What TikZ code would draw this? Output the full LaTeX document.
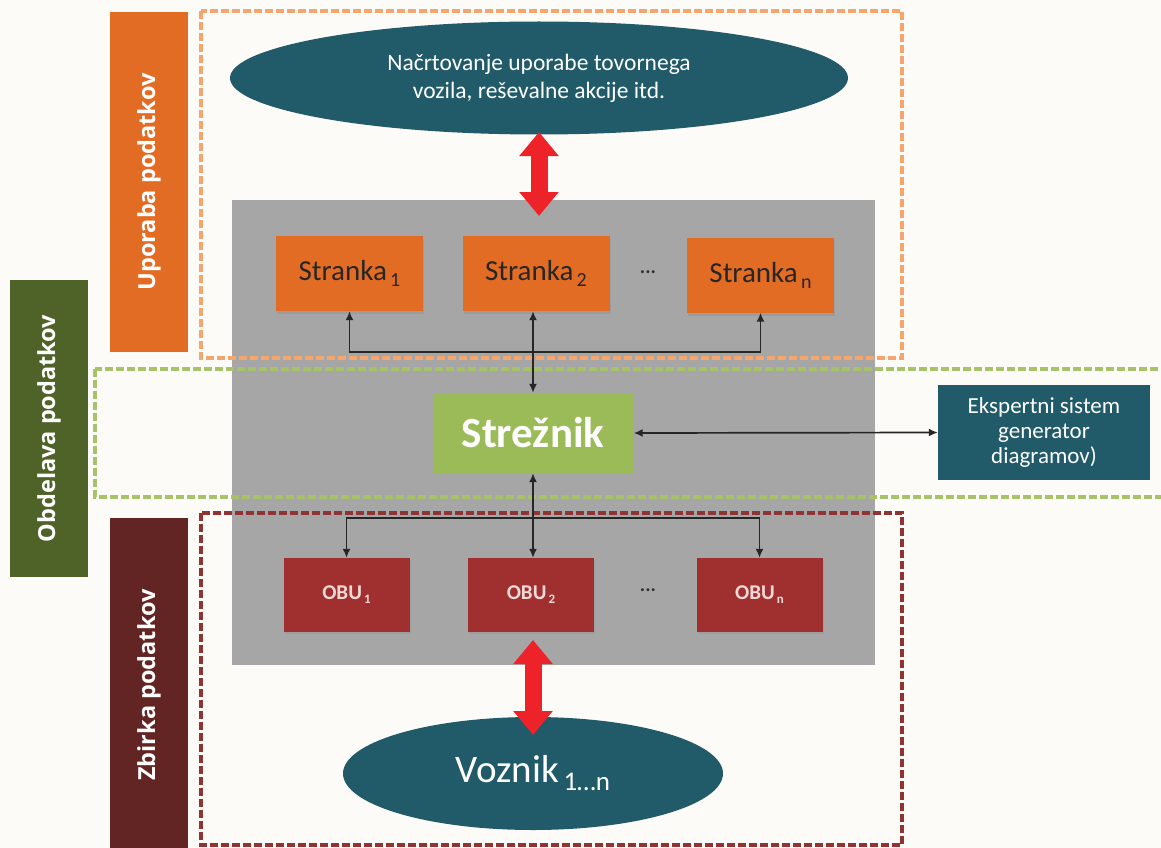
\documentclass[tikz,border=0pt]{standalone}
\usepackage{fontspec}
\setmainfont{Carlito}
\newfontfamily\barfont{Open Sans}
\usetikzlibrary{arrows.meta,shapes.geometric,shadows}
\definecolor{bgC}{HTML}{FDFBF8}
\definecolor{orangeC}{HTML}{E36C24}
\definecolor{greenbarC}{HTML}{4F6228}
\definecolor{redbarC}{HTML}{632523}
\definecolor{tealC}{HTML}{215A69}
\definecolor{grayC}{HTML}{A6A6A6}
\definecolor{srvC}{HTML}{9BBB59}
\definecolor{obuC}{HTML}{A03030}
\definecolor{obuText}{HTML}{F4D9D6}
\definecolor{arrowRed}{HTML}{EE2229}
\definecolor{dashOrange}{HTML}{F4A66C}
\definecolor{dashGreen}{HTML}{A6C36A}
\definecolor{dashRed}{HTML}{8E3533}
\newcommand\lowsub[2]{{\fontsize{#1}{#1}\selectfont\,\raisebox{-0.3em}{#2}}}
\tikzset{
  bar/.style={rotate=90, text=white, inner sep=0pt, minimum height=78pt,
    font=\barfont\bfseries\fontsize{23.5}{23.5}\selectfont},
  stranka/.style={fill=orangeC, minimum width=147pt, minimum height=75pt, inner sep=0pt,
    text=black!85, font=\fontsize{29}{29}\selectfont,
    drop shadow={opacity=0.25, shadow xshift=1pt, shadow yshift=-3pt}},
  obu/.style={fill=obuC, minimum width=126pt, minimum height=74pt, inner sep=0pt,
    text=obuText, font=\bfseries\fontsize{21}{21}\selectfont,
    drop shadow={opacity=0.2, shadow xshift=1pt, shadow yshift=-2pt}},
  oval/.style={ellipse, fill=tealC, inner sep=0pt, text=white},
  dashbox/.style={line width=3.2pt, dash pattern=on 8pt off 3pt},
  conn/.style={line width=1.7pt, black!85, {Latex[length=9pt,width=8pt]}-{Latex[length=9pt,width=8pt]}},
  bigarrow/.style={line width=17pt, arrowRed,
    {Triangle[width=38pt,length=24pt]}-{Triangle[width=38pt,length=24pt]}},
  dots/.style={text=black!80, font=\fontsize{20}{20}\selectfont\bfseries}
}
\begin{document}
\begin{tikzpicture}[x=1pt,y=-1pt]
\useasboundingbox (0,0) rectangle (1161,848);
\fill[bgC] (0,0) rectangle (1161,848);

% side bars
\node[bar, fill=orangeC, minimum width=340pt] (barUse) at (149,182) {Uporaba podatkov};
\node[bar, fill=greenbarC, minimum width=297pt] (barProc) at (49,428.5) {Obdelava podatkov};
\node[bar, fill=redbarC, minimum width=334pt] (barColl) at (149,685) {Zbirka podatkov};

% gray panel
\fill[grayC] (232,200) rectangle (875,665);

% dashed zones
\draw[dashbox, dashOrange] (201,11) rectangle (902,358);
\draw[dashbox, dashGreen] (95,369) rectangle (1175,497);
\draw[dashbox, dashRed] (201,513) rectangle (902,845);

% top ellipse
\node[oval, minimum width=618pt, minimum height=113pt, align=center,
  font=\fontsize{23.5}{28}\selectfont] (plan) at (539,78)
  {Načrtovanje uporabe tovornega\\vozila, reševalne akcije itd.};

% clients
\node[stranka] (s1) at (349.5,273.5) {Stranka\lowsub{20}{1}};
\node[stranka] (s2) at (536,273.5) {Stranka\lowsub{20}{2}};
\node[stranka] (sn) at (760.5,275) {Stranka\lowsub{20}{n}};
\node[dots] (d1) at (648,272) {...};

% server
\node[fill=srvC, minimum width=201pt, minimum height=80pt, inner sep=0pt,
  text=white, font=\bfseries\fontsize{43}{43}\selectfont] (srv) at (533,433) {Strežnik};

% expert system
\node[fill=tealC, minimum width=212pt, minimum height=95pt, inner sep=0pt, text=white,
  align=center, font=\fontsize{23}{25}\selectfont] (exp) at (1044,432.5)
  {Ekspertni sistem\\generator\\diagramov)};

% OBUs
\node[obu] (o1) at (346.5,595) {OBU\lowsub{13}{1}};
\node[obu] (o2) at (531,595) {OBU\lowsub{13}{2}};
\node[obu] (on) at (759.5,595) {OBU\lowsub{13}{n}};
\node[dots] (d2) at (648,590) {...};

% bottom ellipse
\node[oval, minimum width=380pt, minimum height=113pt,
  font=\fontsize{39}{39}\selectfont] (drv) at (533,773.5)
  {Voznik\lowsub{27}{1…n}};

% connectors
\coordinate (tb) at (533,352);
\coordinate (bb) at (533,518);
\draw[conn] (s1.south) |- (tb) -| (sn.south);
\draw[conn] (s2.south -| srv.north) -- (srv.north);
\draw[conn] (srv.east) -- (exp.west);
\draw[conn] (srv.south) -- (srv.south |- o2.north);
\draw[conn] (o1.north) |- (bb) -| (on.north);

% big red arrows
\coordinate (ta) at (539,132);
\coordinate (tz) at (539,216);
\draw[bigarrow] (ta) -- (tz);
\coordinate (ba) at (533,640);
\coordinate (bz) at (533,735);
\draw[bigarrow] (ba) -- (bz);
\end{tikzpicture}
\end{document}
